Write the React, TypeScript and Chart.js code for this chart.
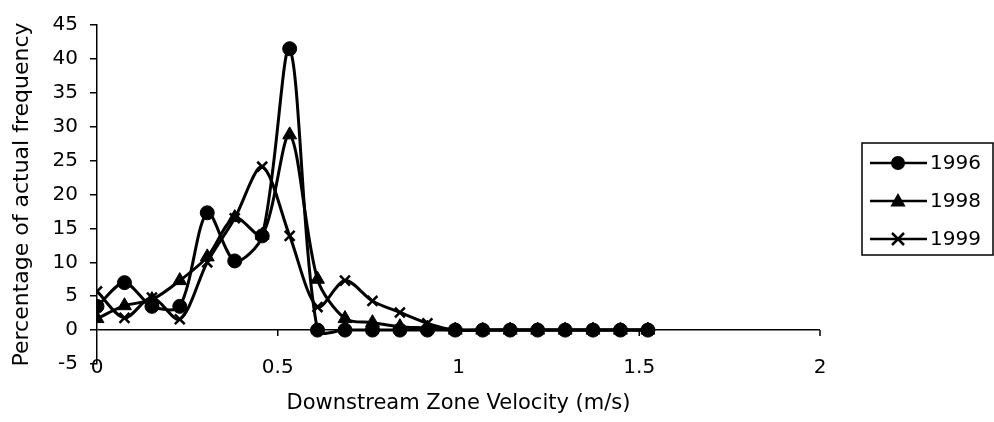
import React, { useEffect, useRef } from 'react';
import { Chart, registerables } from 'chart.js';

Chart.register(...registerables);

// Velocity classes (m/s)
const velocities = [0, 0.076, 0.152, 0.229, 0.305, 0.381, 0.457, 0.533, 0.61, 0.686, 0.762, 0.838, 0.914, 0.991, 1.067, 1.143, 1.219, 1.295, 1.372, 1.448, 1.524];
const series1996 = [3.5, 7.0, 3.5, 3.5, 17.3, 10.2, 13.9, 41.5, 0, 0, 0, 0, 0, 0, 0, 0, 0, 0, 0, 0, 0];
const series1998 = [1.7, 3.6, 4.5, 7.3, 10.8, 16.6, 14.0, 28.8, 7.5, 1.7, 1.1, 0.5, 0.3, 0, 0, 0, 0, 0, 0, 0, 0];
const series1999 = [5.7, 1.8, 4.8, 1.6, 10.0, 16.5, 24.1, 13.9, 3.4, 7.3, 4.3, 2.6, 1.0, 0, 0, 0, 0, 0, 0, 0, 0];
const seriesLabels = ['1996', '1998', '1999'];
const xTickValues = [0, 0.5, 1, 1.5, 2];
const yMin = -5;
const yMax = 45;
const yStep = 5;

const FONT = "'DejaVu Sans', 'Liberation Sans', Arial, sans-serif";

function drawMarker(ctx: CanvasRenderingContext2D, style: string, x: number, y: number) {
  ctx.save();
  ctx.fillStyle = '#000';
  ctx.strokeStyle = '#000';
  if (style === 'circle') {
    ctx.beginPath();
    ctx.arc(x, y, 7, 0, Math.PI * 2);
    ctx.fill();
  } else if (style === 'triangle') {
    const r = 8;
    ctx.beginPath();
    ctx.moveTo(x, y - r);
    ctx.lineTo(x + r * 0.95, y + r * 0.7);
    ctx.lineTo(x - r * 0.95, y + r * 0.7);
    ctx.closePath();
    ctx.fill();
  } else {
    const r = 6;
    ctx.lineWidth = 2.5;
    ctx.beginPath();
    ctx.moveTo(x - r, y - r);
    ctx.lineTo(x + r, y + r);
    ctx.moveTo(x + r, y - r);
    ctx.lineTo(x - r, y + r);
    ctx.stroke();
  }
  ctx.restore();
}

const boxLegend = {
  id: 'boxLegend',
  afterDraw(chart: any) {
    const ctx: CanvasRenderingContext2D = chart.ctx;
    const left = 862;
    const top = 143;
    const width = 131;
    const height = 112;
    ctx.save();
    ctx.strokeStyle = '#000';
    ctx.lineWidth = 1.5;
    ctx.strokeRect(left, top, width, height);
    const rows = [163, 201, 239];
    chart.data.datasets.forEach((ds: any, i: number) => {
      const y = rows[i];
      ctx.strokeStyle = '#000';
      ctx.lineWidth = 2.5;
      ctx.beginPath();
      ctx.moveTo(870, y);
      ctx.lineTo(927, y);
      ctx.stroke();
      drawMarker(ctx, ds.pointStyle, 898, y);
      ctx.fillStyle = '#000';
      ctx.font = `20px ${FONT}`;
      ctx.textAlign = 'left';
      ctx.textBaseline = 'middle';
      ctx.fillText(ds.label, 930, y + 1);
    });
    ctx.restore();
  },
};

// Excel-style category axis crossing at y = 0: tick marks on the zero line, labels below the plot
const zeroAxisTicks = {
  id: 'zeroAxisTicks',
  afterDraw(chart: any) {
    const ctx: CanvasRenderingContext2D = chart.ctx;
    const xs = chart.scales.x;
    const ys = chart.scales.y;
    const y0 = ys.getPixelForValue(0);
    const yLabel = ys.getPixelForValue(yMin) + 4;
    ctx.save();
    ctx.strokeStyle = '#000';
    ctx.lineWidth = 1.5;
    ctx.fillStyle = '#000';
    ctx.font = `20px ${FONT}`;
    ctx.textAlign = 'center';
    ctx.textBaseline = 'middle';
    xTickValues.forEach((v) => {
      const px = xs.getPixelForValue(v);
      if (v !== 0) {
        ctx.beginPath();
        ctx.moveTo(px, y0);
        ctx.lineTo(px, y0 + 6);
        ctx.stroke();
      }
      ctx.fillText(String(v), px, yLabel);
    });
    ctx.restore();
  },
};

export default function App() {
  const canvasRef = useRef<HTMLCanvasElement | null>(null);

  useEffect(() => {
    if (!canvasRef.current) return;
    const mk = (vals: number[]) => vals.map((v, i) => ({ x: velocities[i], y: v }));
    const styles = ['circle', 'triangle', 'crossRot'];
    const radii = [7, 8, 7];
    const all = [series1996, series1998, series1999];
    const chart = new Chart(canvasRef.current, {
      type: 'line',
      data: {
        datasets: all.map((vals, i) => ({
          label: seriesLabels[i],
          data: mk(vals),
          borderColor: '#000',
          backgroundColor: '#000',
          borderWidth: 3,
          tension: 0.3,
          pointStyle: styles[i],
          pointRadius: radii[i],
          pointBorderWidth: i === 2 ? 2.5 : 1,
          pointBackgroundColor: '#000',
          pointBorderColor: '#000',
        })),
      },
      options: {
        animation: false,
        responsive: false,
        layout: { padding: { left: 0, top: 25, right: 174, bottom: 0 } },
        plugins: {
          legend: { display: false },
          tooltip: { enabled: false },
        },
        scales: {
          x: {
            type: 'linear',
            min: 0,
            max: 2,
            afterFit: (s: any) => { s.height = 58; },
            afterBuildTicks: (s: any) => { s.ticks = xTickValues.map((v) => ({ value: v })); },
            border: { display: false },
            grid: { display: false, drawTicks: false },
            ticks: { display: false },
            title: {
              display: true,
              text: 'Downstream Zone Velocity (m/s)',
              color: '#000',
              font: { family: FONT, size: 21 },
              padding: { top: 0, bottom: 6 },
            },
          },
          y: {
            type: 'linear',
            min: yMin,
            max: yMax,
            afterFit: (s: any) => { s.width = 97; },
            border: { display: true, color: '#000', width: 1.5 },
            grid: {
              color: (c: any) => (c.tick && c.tick.value === 0 ? '#000' : 'rgba(0,0,0,0)'),
              tickColor: '#000',
              lineWidth: 1.5,
              tickLength: 7,
            },
            ticks: {
              stepSize: yStep,
              color: '#000',
              font: { family: FONT, size: 20 },
              padding: 12,
            },
            title: {
              display: true,
              text: 'Percentage of actual frequency',
              color: '#000',
              font: { family: FONT, size: 22 },
              padding: { top: 9, bottom: 0 },
            },
          },
        },
      },
      plugins: [boxLegend, zeroAxisTicks],
    });
    return () => chart.destroy();
  }, []);

  return (
    <div style={{ position: 'absolute', left: 0, top: 0, width: 994, height: 422, background: '#fff' }}>
      <canvas ref={canvasRef} width={994} height={422} />
    </div>
  );
}
